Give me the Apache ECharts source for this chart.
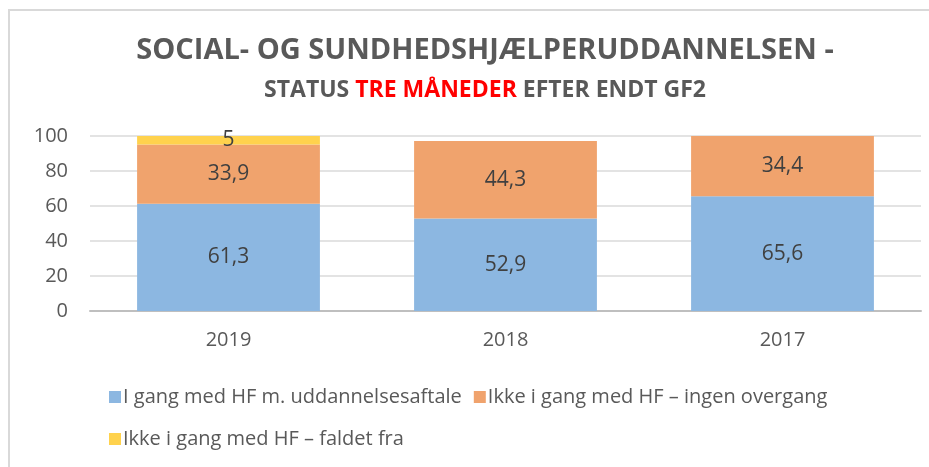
<!DOCTYPE html>
<html>
<head>
<meta charset="utf-8">
<script src="https://cdn.jsdelivr.net/npm/echarts@6/dist/echarts.min.js"></script>
<style>
  html, body { margin: 0; padding: 0; background: #fff; }
  #chart { width: 929px; height: 467px; }
</style>
</head>
<body>
<div id="chart"></div>
<script>
var years = ['2019', '2018', '2017'];
var seriesNames = ['I gang med HF m. uddannelsesaftale', 'Ikke i gang med HF \u2013 ingen overgang', 'Ikke i gang med HF \u2013 faldet fra'];
var iGang = [61.3, 52.9, 65.6];
var ingenOvergang = [33.9, 44.3, 34.4];
var faldetFra = [5, null, null];
var yTicks = [0, 20, 40, 60, 80, 100];

var font = '"Open Sans", sans-serif';
var gray = '#595959';

function fmt(p) {
  if (p.value == null) return '';
  return String(p.value).replace('.', ',');
}

var myChart = echarts.init(document.getElementById('chart'));
var option = {
  animation: false,
  textStyle: { fontFamily: font },
  graphic: [
    {
      type: 'rect',
      shape: { x: 9, y: 10, width: 960, height: 500 },
      style: { fill: 'none', stroke: '#d9d9d9', lineWidth: 2 },
      silent: true
    }
  ],
  title: {
    text: 'SOCIAL- OG SUNDHEDSHJÆLPERUDDANNELSEN -',
    subtext: '{g|STATUS }{r|TRE MÅNEDER}{g| EFTER ENDT GF2}',
    left: 480,
    textAlign: 'center',
    top: 31,
    itemGap: 14,
    textStyle: {
      fontFamily: font,
      fontWeight: 'bold',
      fontSize: 29,
      color: gray
    },
    subtextStyle: {
      rich: {
        g: { fontFamily: font, fontWeight: 'bold', fontSize: 23, color: gray },
        r: { fontFamily: font, fontWeight: 'bold', fontSize: 23, color: '#ff0000' }
      }
    }
  },
  legend: [
    {
      data: [seriesNames[0], seriesNames[1]],
      left: 104,
      top: 382,
      itemWidth: 12,
      itemHeight: 12,
      itemGap: 12,
      icon: 'rect',
      textStyle: { fontFamily: font, fontSize: 20, color: gray, padding: [0, 0, 0, -3] }
    },
    {
      data: [seriesNames[2]],
      left: 104,
      top: 424,
      itemWidth: 12,
      itemHeight: 12,
      icon: 'rect',
      textStyle: { fontFamily: font, fontSize: 20, color: gray, padding: [0, 0, 0, -3] }
    }
  ],
  grid: {
    left: 90,
    right: 8,
    top: 136,
    bottom: 156
  },
  xAxis: {
    type: 'category',
    data: years,
    axisLine: { lineStyle: { color: '#bfbfbf', width: 2 } },
    axisTick: { show: false },
    axisLabel: { fontFamily: font, fontSize: 20, color: gray, margin: 19 }
  },
  yAxis: {
    type: 'value',
    min: yTicks[0],
    max: yTicks[yTicks.length - 1],
    interval: 20,
    axisLine: { show: false },
    axisTick: { show: false },
    splitLine: { lineStyle: { color: '#e3e3e3', width: 2 } },
    axisLabel: { fontFamily: font, fontSize: 20, color: gray, margin: 22 }
  },
  series: [
    {
      name: seriesNames[0],
      type: 'bar',
      stack: 'total',
      barCategoryGap: '34%',
      itemStyle: { color: '#8cb7e1' },
      label: { show: true, position: 'inside', formatter: fmt, fontFamily: font, fontSize: 21, color: '#404040' },
      data: iGang
    },
    {
      name: seriesNames[1],
      type: 'bar',
      stack: 'total',
      itemStyle: { color: '#f0a36d' },
      label: { show: true, position: 'inside', formatter: fmt, fontFamily: font, fontSize: 21, color: '#404040' },
      data: ingenOvergang
    },
    {
      name: seriesNames[2],
      type: 'bar',
      stack: 'total',
      itemStyle: { color: '#ffd24d' },
      label: { show: true, position: 'inside', formatter: fmt, fontFamily: font, fontSize: 21, color: '#404040' },
      data: faldetFra
    }
  ]
};
myChart.setOption(option);
</script>
</body>
</html>
